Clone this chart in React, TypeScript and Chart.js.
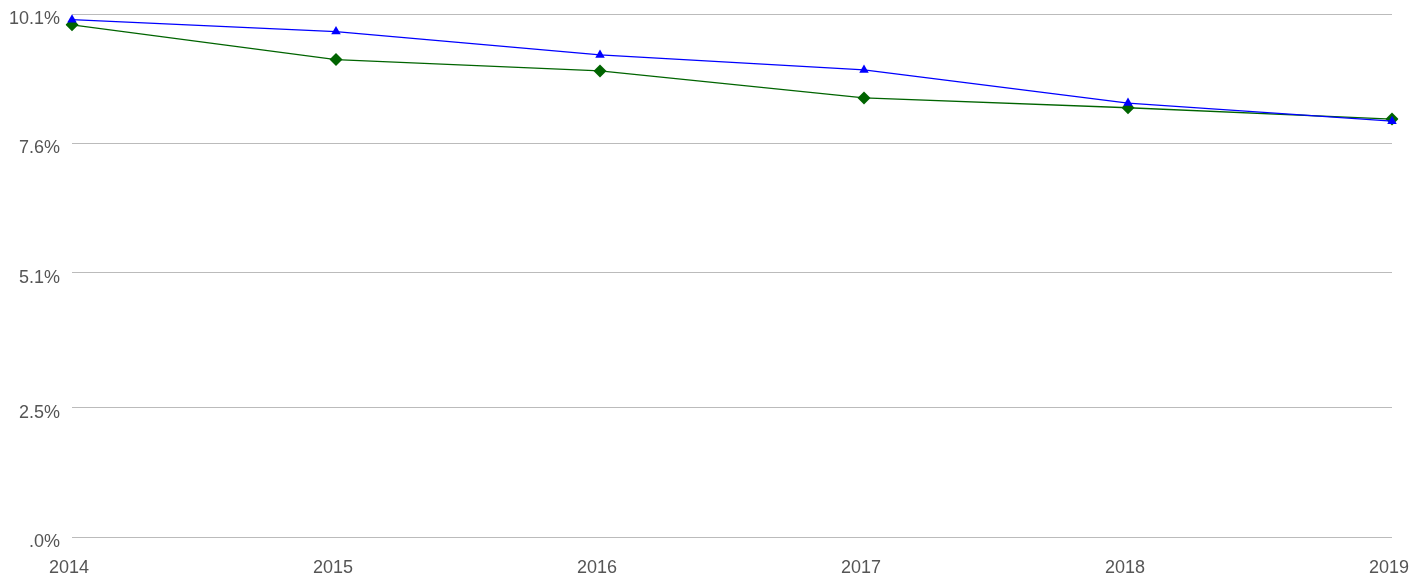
import React, { useEffect, useRef } from "react";
import { Chart, registerables } from "chart.js";

Chart.register(...registerables);

const categories = ["2014", "2015", "2016", "2017", "2018", "2019"];
const blueSeries = [9.99, 9.76, 9.31, 9.02, 8.38, 8.03];
const greenSeries = [9.89, 9.22, 9.0, 8.48, 8.29, 8.07];
const yTickValues = [0, 2.5, 5.1, 7.6, 10.1];
const yTickLabels = [".0%", "2.5%", "5.1%", "7.6%", "10.1%"];

export default function App() {
  const ref = useRef<HTMLCanvasElement | null>(null);
  useEffect(() => {
    if (!ref.current) return;
    const chart = new Chart(ref.current, {
      type: "line",
      data: {
        labels: categories,
        datasets: [
          {
            data: blueSeries,
            borderColor: "#0000ff",
            backgroundColor: "#0000ff",
            borderWidth: 1.3,
            pointStyle: "triangle",
            pointRadius: 5.5,
            pointBorderWidth: 0,
            tension: 0,
          },
          {
            data: greenSeries,
            borderColor: "#006400",
            backgroundColor: "#006400",
            borderWidth: 1.3,
            pointStyle: "rectRot",
            pointRadius: 6.5,
            pointBorderWidth: 0,
            tension: 0,
          },
        ],
      },
      options: {
        animation: false,
        responsive: true,
        maintainAspectRatio: false,
        layout: { padding: { top: 14, right: 36, left: 0, bottom: 0 } },
        plugins: { legend: { display: false }, tooltip: { enabled: false } },
        events: [],
        scales: {
          x: {
            offset: false,
            grid: { display: false, drawTicks: false },
            border: { display: false },
            ticks: {
              color: "#555555",
              font: { family: "Liberation Sans, Arial", size: 18 },
              padding: 20,
              labelOffset: -3,
              maxRotation: 0,
              autoSkip: false,
            },
            afterFit: (s: any) => {
              s.height = 40;
              s.paddingLeft = 0;
              s.paddingRight = 0;
            },
          },
          y: {
            min: 0,
            max: 10.1,
            grid: { color: "#bbbbbb", lineWidth: 1, drawTicks: false },
            border: { display: false },
            afterBuildTicks: (s: any) => {
              s.ticks = yTickValues.map((v) => ({ value: v }));
            },
            ticks: {
              color: "#555555",
              font: { family: "Liberation Sans, Arial", size: 18 },
              padding: 12,
              labelOffset: 5,
              callback: (_v: any, i: number) => yTickLabels[i],
            },
            afterFit: (s: any) => {
              s.width = 72;
              s.paddingTop = 0;
              s.paddingBottom = 0;
            },
          },
        },
      },
    });
    return () => chart.destroy();
  }, []);
  return (
    <div style={{ position: "absolute", left: 0, top: 0, width: 1428, height: 577 }}>
      <canvas ref={ref} />
    </div>
  );
}
